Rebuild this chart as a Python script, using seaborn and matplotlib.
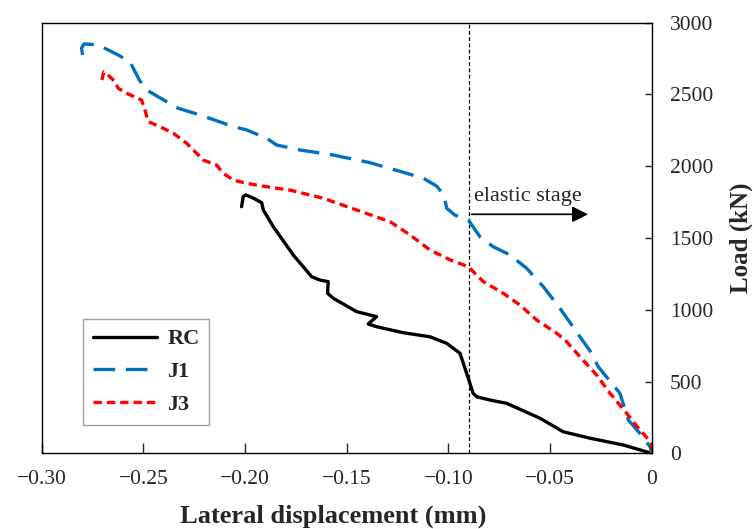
import pandas as pd
import matplotlib
matplotlib.use("Agg")
import matplotlib.pyplot as plt
from matplotlib.ticker import FuncFormatter
import seaborn as sns

# --- Datos ---
rc_x = [-0.2017, -0.2009, -0.1996, -0.1961, -0.1918, -0.1910, -0.1861, -0.1763,
        -0.1672, -0.1632, -0.1591, -0.1594, -0.1566, -0.1451, -0.1353, -0.1394,
        -0.1353, -0.1222, -0.1091, -0.1008, -0.0943, -0.0910, -0.0878, -0.0861,
        -0.0795, -0.0713, -0.0549, -0.0435, -0.0303, -0.0140, 0.0]
rc_y = [1718, 1788, 1800, 1779, 1746, 1695, 1579, 1382,
        1230, 1207, 1196, 1115, 1080, 987, 952, 901,
        882, 840, 812, 766, 697, 557, 418, 394,
        371, 348, 244, 150, 105, 58, 0]

j1_x = [-0.2799, -0.2804, -0.2792, -0.2722, -0.2624, -0.2566, -0.2520, -0.2484,
        -0.2386, -0.2329, -0.2222, -0.2164, -0.2058, -0.1992, -0.1894, -0.1845,
        -0.1730, -0.1566, -0.1386, -0.1222, -0.1123, -0.1058, -0.1022, -0.1008,
        -0.0968, -0.0902, -0.0845, -0.0779, -0.0697, -0.0615, -0.0533, -0.0451,
        -0.0353, -0.0295, -0.0263, -0.0156, -0.0115, -0.0058, -0.0008, 0.0]
j1_y = [2775, 2824, 2852, 2845, 2775, 2728, 2601, 2531,
        2450, 2404, 2357, 2329, 2276, 2253, 2195, 2148,
        2113, 2078, 2025, 1958, 1916, 1862, 1799, 1707,
        1660, 1626, 1509, 1439, 1382, 1289, 1161, 1010,
        812, 697, 603, 418, 232, 139, 46, 0]

j3_x = [-0.2704, -0.2694, -0.2684, -0.2640, -0.2624, -0.2582, -0.2509, -0.2492,
        -0.2476, -0.2419, -0.2353, -0.2287, -0.2238, -0.2206, -0.2140, -0.2107,
        -0.2058, -0.1992, -0.1894, -0.1780, -0.1615, -0.1451, -0.1287, -0.1189,
        -0.1091, -0.0992, -0.0902, -0.0828, -0.0730, -0.0648, -0.0566, -0.0467,
        -0.0426, -0.0353, -0.0271, -0.0205, -0.0123, -0.0058, 0.0, 0.0]
j3_y = [2601, 2657, 2650, 2589, 2543, 2508, 2461, 2391,
        2310, 2276, 2230, 2160, 2090, 2043, 2008, 1951,
        1904, 1881, 1857, 1834, 1777, 1695, 1614, 1522,
        1417, 1348, 1300, 1196, 1115, 1033, 929, 836,
        790, 673, 546, 418, 279, 162, 72, 0]

x_ticks = [-0.30, -0.25, -0.20, -0.15, -0.10, -0.05, 0.0]
y_ticks = [0, 500, 1000, 1500, 2000, 2500, 3000]
elastic_x = -0.09

# --- Estilo ---
sns.set_style("ticks")
plt.rcParams["font.family"] = ["Liberation Serif", "DejaVu Serif"]
plt.rcParams["axes.linewidth"] = 1.0

fig = plt.figure(figsize=(7.54, 5.29), dpi=100)
ax = fig.add_axes([0.0553, 0.1431, 0.8090, 0.8140])

rc = pd.DataFrame({"x": rc_x, "y": rc_y})
j1 = pd.DataFrame({"x": j1_x, "y": j1_y})
j3 = pd.DataFrame({"x": j3_x, "y": j3_y})

sns.lineplot(data=rc, x="x", y="y", sort=False, estimator=None, ax=ax,
             color="black", lw=2.4, label="RC")
sns.lineplot(data=j1, x="x", y="y", sort=False, estimator=None, ax=ax,
             color="#0070C0", lw=2.4, linestyle=(0, (6.5, 3.2)), label="J1")
sns.lineplot(data=j3, x="x", y="y", sort=False, estimator=None, ax=ax,
             color="#FF0000", lw=2.4, linestyle=(0, (2.5, 1.5)), label="J3")

# linea de etapa elastica
ax.axvline(elastic_x, color="black", lw=0.9, ls=(0, (3, 2)), zorder=1)
ax.annotate("", xy=(-0.0313, 1665), xytext=(-0.0885, 1665),
            arrowprops=dict(arrowstyle="-|>", color="black", lw=1.2,
                            mutation_scale=24, shrinkA=0, shrinkB=0))
ax.text(-0.0876, 1790, "elastic stage", fontsize=16, va="center", ha="left")

# --- Ejes ---
ax.set_xlim(-0.30, 0.0)
ax.set_ylim(0, 3000)
ax.set_xticks(x_ticks)
ax.set_yticks(y_ticks)
ax.xaxis.set_major_formatter(FuncFormatter(
    lambda v, p: "0" if abs(v) < 1e-9 else f"{v:.2f}".replace("-", "\u2212")))
ax.yaxis.tick_right()
ax.yaxis.set_label_position("right")
ax.tick_params(axis="x", direction="in", length=7, width=1, pad=12, labelsize=15.5)
ax.tick_params(axis="y", direction="in", length=5, width=1, pad=13, labelsize=15.5)
for s in ax.spines.values():
    s.set_visible(True)
    s.set_color("black")

ax.set_xlabel("Lateral displacement (mm)", fontsize=19, fontweight="bold")
ax.set_ylabel("Load (kN)", fontsize=18, fontweight="bold")
ax.xaxis.set_label_coords(0.478, -0.118)
ax.yaxis.set_label_coords(1.128, 0.5)

leg = ax.legend(loc="lower left", bbox_to_anchor=(0.0672, 0.0657), borderaxespad=0,
                fancybox=False, framealpha=1, edgecolor="#A0A0A0",
                prop={"weight": "bold", "size": 16}, handlelength=2.9,
                labelspacing=0.55, borderpad=0.45, handletextpad=0.45)
leg.get_frame().set_linewidth(1.0)

plt.savefig("out.png", dpi=100)
